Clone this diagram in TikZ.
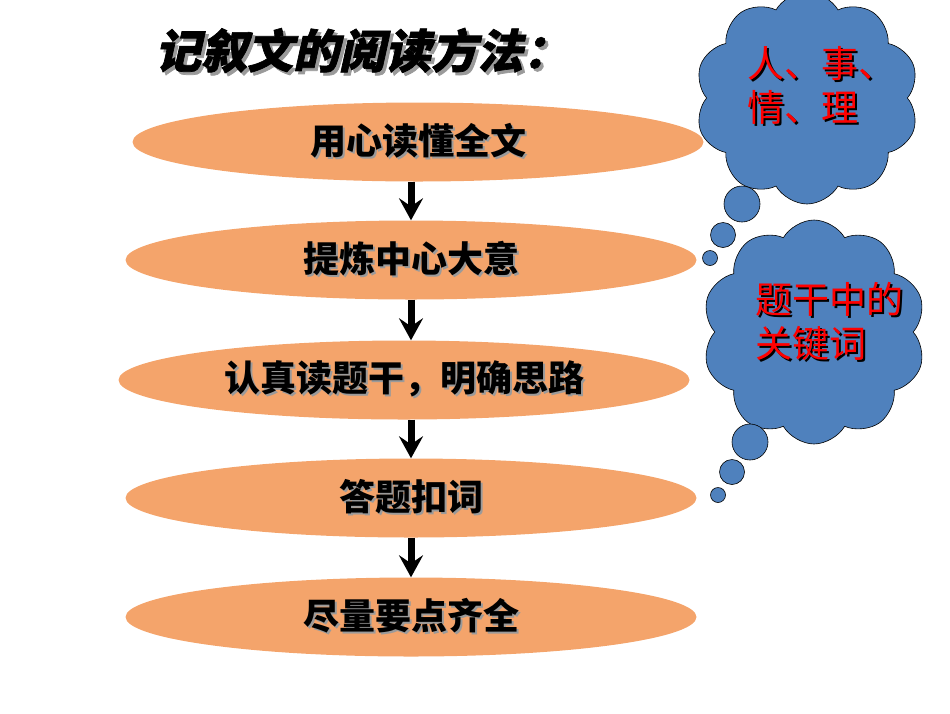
\documentclass[tikz,border=0pt]{standalone}
\usepackage{fontspec}
\setmainfont{Noto Sans CJK SC}
\newfontfamily\titlefont[FakeSlant=0.22,FakeBold=1.5]{Noto Sans CJK SC}
\usetikzlibrary{shapes.geometric,shapes.symbols,arrows.meta}
\definecolor{orangef}{HTML}{F4A46B}
\definecolor{bluef}{HTML}{4F81BD}
\definecolor{shadowgray}{HTML}{9A9A9A}
\newcommand\shd[3]{{\rlap{\kern#3\raisebox{-#3}{\color{#1}#2}}#2}}
\begin{document}
\begin{tikzpicture}[x=1pt,y=-1pt,
  stepell/.style={ellipse, fill=orangef, minimum width=571pt, minimum height=79pt, inner sep=0pt,
    font=\bfseries\fontsize{36}{40}\selectfont},
  flowarrow/.style={line width=7pt, -{Stealth[length=22pt,width=24pt,inset=8pt]}},
  thought/.style={cloud, cloud puffs=10, cloud puff arc=120, aspect=1, draw=black, line width=0.6pt, fill=bluef, inner sep=0pt},
  bubble/.style={circle, draw=black, line width=0.6pt, fill=bluef, inner sep=0pt},
  cloudtext/.style={text=red, align=left, anchor=west, inner sep=0pt, font=\fontsize{37}{44}\selectfont}]
\useasboundingbox (0,0) rectangle (950,713);

\node[font=\titlefont\bfseries\fontsize{46}{50}\selectfont] (title) at (362,52) {\shd{shadowgray}{记叙文的阅读方法：}{3pt}};

\node[stepell] (e1) at (418,142) {\shd{shadowgray}{用心读懂全文}{2pt}};
\node[stepell] (e2) at (411,260) {\shd{shadowgray}{提炼中心大意}{2pt}};
\node[stepell] (e3) at (404,380) {\shd{shadowgray}{认真读题干，明确思路}{2pt}};
\node[stepell] (e4) at (411,498) {\shd{shadowgray}{答题扣词}{2pt}};
\node[stepell] (e5) at (411,617) {\shd{shadowgray}{尽量要点齐全}{2pt}};

\draw[flowarrow] (e1.south -| e2.center) -- (e2.north);
\draw[flowarrow] (e2.south) -- (e3.north -| e2.center);
\draw[flowarrow] (e3.south -| e4.center) -- (e4.north);
\draw[flowarrow] (e4.south) -- (e5.north);

% top thought cloud
\node[thought, minimum width=224pt, minimum height=212pt] (c1) at (807,98) {};
\node[bubble, minimum size=36pt] (b11) at (742,204) {};
\node[bubble, minimum size=25pt] (b12) at (723,235) {};
\node[bubble, minimum size=15pt] (b13) at (710,258) {};
\node[cloudtext] (t1) at (747,86) {\shd{black}{人、事、}{2pt}\\\shd{black}{情、理}{2pt}};

% second thought cloud
\node[thought, minimum width=224pt, minimum height=224pt] (c2) at (814,332) {};
\node[bubble, minimum size=36pt] (b21) at (750,442) {};
\node[bubble, minimum size=25pt] (b22) at (732,472) {};
\node[bubble, minimum size=15pt] (b23) at (718,495) {};
\node[cloudtext] (t2) at (755,322) {\shd{black}{题干中的}{2pt}\\\shd{black}{关键词}{2pt}};
\end{tikzpicture}
\end{document}
